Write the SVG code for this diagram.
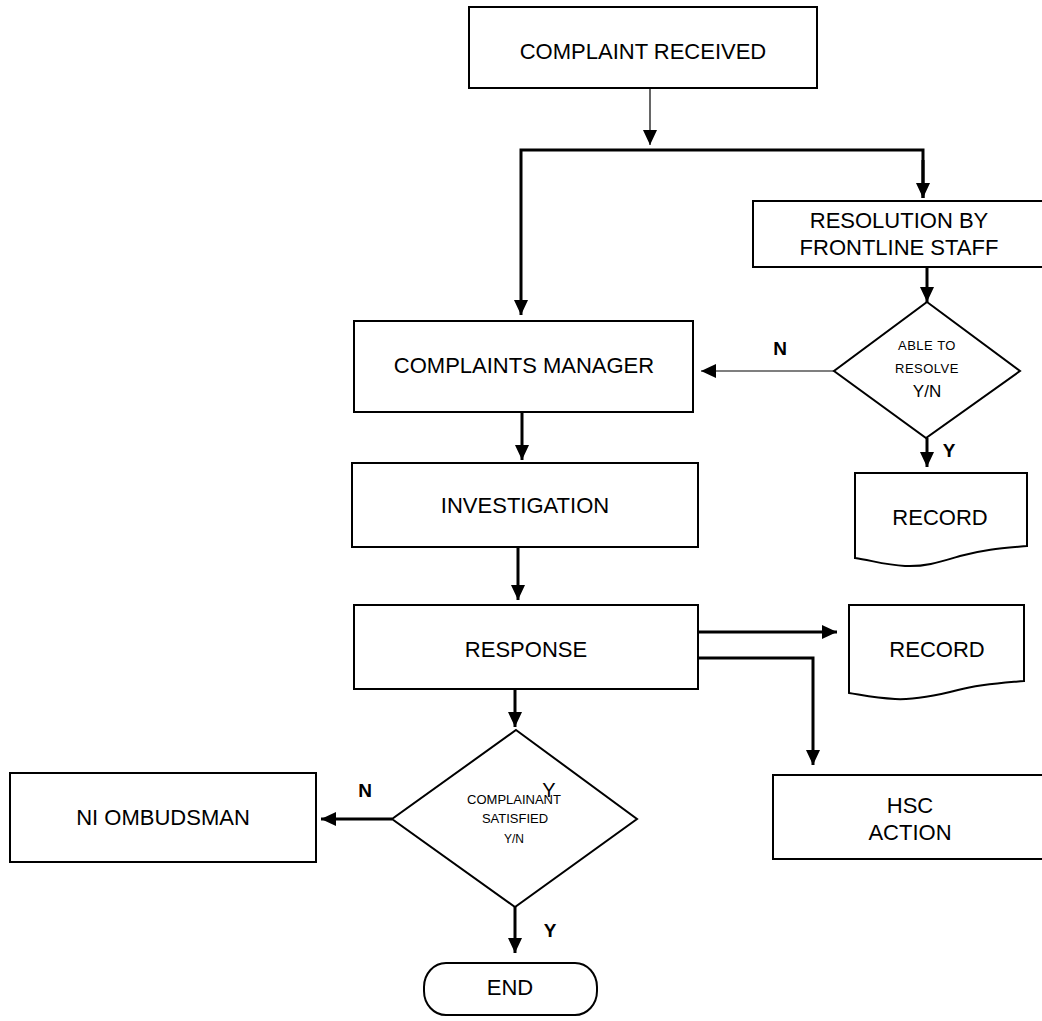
<svg xmlns="http://www.w3.org/2000/svg" width="1042" height="1021" viewBox="0 0 1042 1021">
<style>
.box{fill:#fff;stroke:#000;stroke-width:2}
.t{font-family:"Liberation Sans",Arial,sans-serif;font-size:22px;fill:#000;text-anchor:middle}
.s{font-family:"Liberation Sans",Arial,sans-serif;font-size:13px;fill:#000;text-anchor:middle}
.lb{font-family:"Liberation Sans",Arial,sans-serif;font-size:19px;font-weight:bold;fill:#000;text-anchor:middle}
.thick{fill:none;stroke:#000;stroke-width:3}
.thin{fill:none;stroke:#000;stroke-width:1.2}
</style>
<defs>
<marker id="ah" markerUnits="userSpaceOnUse" markerWidth="16" markerHeight="16" viewBox="0 0 16 16" refX="15" refY="8" orient="auto">
<path d="M0,1 L15,8 L0,15 Z" fill="#000"/>
</marker>
</defs>
<rect width="1042" height="1021" fill="#fff"/>
<g id="connectors">
<path class="thin" d="M650,88 V145" marker-end="url(#ah)"/>
<path class="thick" d="M923,198 V150 H521 V315" marker-end="url(#ah)"/>
<path class="thick" d="M923,160 V198" marker-end="url(#ah)"/>
<path class="thick" d="M927,267 V302" marker-end="url(#ah)"/>
<path class="thin" d="M834,371 H701" marker-end="url(#ah)"/>
<path class="thick" d="M927,438 V467" marker-end="url(#ah)"/>
<path class="thick" d="M522,412 V460" marker-end="url(#ah)"/>
<path class="thick" d="M518,547 V600" marker-end="url(#ah)"/>
<path class="thick" d="M698,632 H837" marker-end="url(#ah)"/>
<path class="thick" d="M698,658 H813 V765" marker-end="url(#ah)"/>
<path class="thick" d="M515,689 V727" marker-end="url(#ah)"/>
<path class="thick" d="M392,819 H321" marker-end="url(#ah)"/>
<path class="thick" d="M515,907 V953" marker-end="url(#ah)"/>
<text class="lb" x="780" y="355">N</text>
<text class="lb" x="949" y="457">Y</text>
<text class="lb" x="365" y="797">N</text>
<text class="lb" x="550" y="937">Y</text>
</g>
<g id="complaint-received">
<rect class="box" x="469" y="7" width="348" height="81"/>
<text class="t" x="643" y="59">COMPLAINT RECEIVED</text>
</g>
<g id="resolution-frontline">
<rect class="box" x="753" y="201" width="294" height="66"/>
<text class="t" x="899" y="228">RESOLUTION BY</text>
<text class="t" x="899" y="255">FRONTLINE STAFF</text>
</g>
<g id="able-to-resolve">
<path class="box" d="M927,302 L1020,371 L926,438 L834,371 Z"/>
<text class="s" x="927" y="350" letter-spacing="0.5">ABLE TO</text>
<text class="s" x="927" y="373" letter-spacing="0.5">RESOLVE</text>
<text class="t" x="927" y="397" style="font-size:17px">Y/N</text>
</g>
<g id="complaints-manager">
<rect class="box" x="354" y="321" width="339" height="91"/>
<text class="t" x="524" y="373">COMPLAINTS MANAGER</text>
</g>
<g id="record-1">
<path class="box" d="M855,473 H1027 V546 C1005,548 985,549 960,556 C940,562 925,567 905,566 C885,565 870,560 855,558 Z"/>
<text class="t" x="940" y="525">RECORD</text>
</g>
<g id="investigation">
<rect class="box" x="352" y="463" width="346" height="84"/>
<text class="t" x="525" y="513">INVESTIGATION</text>
</g>
<g id="response">
<rect class="box" x="354" y="605" width="344" height="84"/>
<text class="t" x="526" y="657">RESPONSE</text>
</g>
<g id="record-2">
<path class="box" d="M849,605 H1024 V681 C1002,683 982,684 958,690 C935,696 915,700 895,699 C875,698 862,695 849,693 Z"/>
<text class="t" x="937" y="657">RECORD</text>
</g>
<g id="hsc-action">
<rect class="box" x="773" y="775" width="274" height="84"/>
<text class="t" x="910" y="813">HSC</text>
<text class="t" x="910" y="840">ACTION</text>
</g>
<g id="complainant-satisfied">
<path class="box" d="M516,730 L637,819 L515,907 L392,819 Z"/>
<text class="t" x="549" y="797" style="font-size:20px">Y</text>
<text class="s" x="514" y="804">COMPLAINANT</text>
<text class="s" x="515" y="823">SATISFIED</text>
<text class="s" x="514" y="843" style="font-size:12px">Y/N</text>
</g>
<g id="ni-ombudsman">
<rect class="box" x="10" y="773" width="306" height="89"/>
<text class="t" x="163" y="825">NI OMBUDSMAN</text>
</g>
<g id="end">
<rect class="box" x="424" y="963" width="173" height="52" rx="22" ry="24"/>
<text class="t" x="510" y="995">END</text>
</g>
</svg>
